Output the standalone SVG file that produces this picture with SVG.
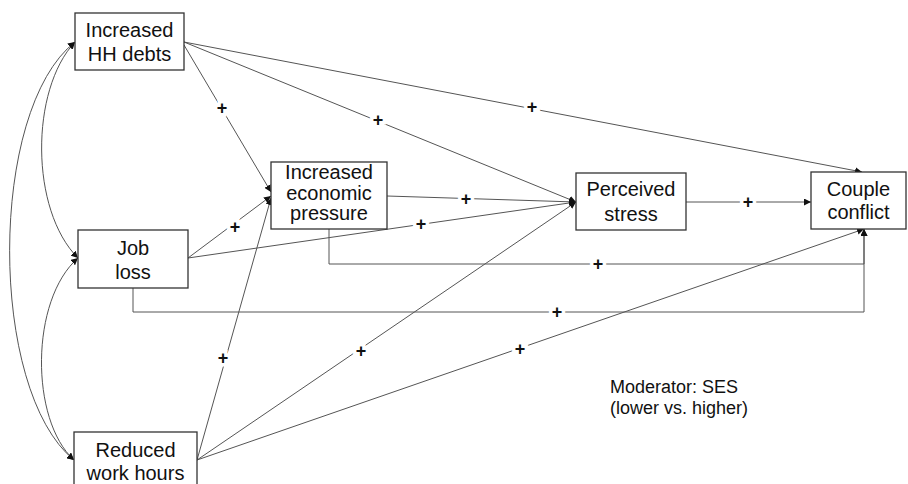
<svg xmlns="http://www.w3.org/2000/svg" width="908" height="484" viewBox="0 0 908 484">
<style>
.box{fill:#fff;stroke:#333;stroke-width:1.3}
.t{font-family:"Liberation Sans",Arial,sans-serif;font-size:20px;fill:#111;text-anchor:middle}
.c{fill:none;stroke:#555;stroke-width:1}
.p{font-family:"Liberation Sans",Arial,sans-serif;font-size:18px;font-weight:bold;fill:#111;text-anchor:middle;stroke:#fff;stroke-width:7;paint-order:stroke}
.m{font-family:"Liberation Sans",Arial,sans-serif;font-size:18px;fill:#111}
</style>
<defs>
<marker id="ah" viewBox="0 0 10 10" refX="10" refY="5" markerWidth="7" markerHeight="7" markerUnits="userSpaceOnUse" orient="auto-start-reverse">
<path d="M0,0 L10,5 L0,10 z" fill="#111"/>
</marker>
</defs>
<rect width="908" height="484" fill="#fff"/>
<g id="connectors">
<path class="c" d="M75,42 C30,90 30,210 78,258" marker-start="url(#ah)" marker-end="url(#ah)"/>
<path class="c" d="M75,42 C-12,110 -12,390 74,460" marker-start="url(#ah)" marker-end="url(#ah)"/>
<path class="c" d="M78,258 C30,300 30,420 74,460" marker-start="url(#ah)" marker-end="url(#ah)"/>
<path class="c" d="M184,42 L862,172" marker-end="url(#ah)"/>
<path class="c" d="M184,42 L576,202" marker-end="url(#ah)"/>
<path class="c" d="M184,45 L271,192" marker-end="url(#ah)"/>
<path class="c" d="M188,258 L271,196" marker-end="url(#ah)"/>
<path class="c" d="M197,460 L271,198" marker-end="url(#ah)"/>
<path class="c" d="M188,258 L576,202" marker-end="url(#ah)"/>
<path class="c" d="M387,196 L576,202" marker-end="url(#ah)"/>
<path class="c" d="M686,202 L811,202" marker-end="url(#ah)"/>
<path class="c" d="M329,229 L329,264 L864,264 L864,229" marker-end="url(#ah)"/>
<path class="c" d="M133,288 L133,312 L864,312 L864,229" marker-end="url(#ah)"/>
<path class="c" d="M197,460 L576,202" marker-end="url(#ah)"/>
<path class="c" d="M197,460 L864,229" marker-end="url(#ah)"/>
<text class="p" x="532" y="113">+</text>
<text class="p" x="378" y="126">+</text>
<text class="p" x="222" y="114">+</text>
<text class="p" x="235" y="233">+</text>
<text class="p" x="223" y="364">+</text>
<text class="p" x="421" y="230">+</text>
<text class="p" x="466" y="205">+</text>
<text class="p" x="748" y="208">+</text>
<text class="p" x="598" y="270">+</text>
<text class="p" x="557" y="318">+</text>
<text class="p" x="361" y="357">+</text>
<text class="p" x="520" y="355">+</text>
</g>
<g id="hh">
<rect class="box" x="75" y="13" width="109" height="57"/>
<text class="t" x="129.5" y="37">Increased</text>
<text class="t" x="129.5" y="61">HH debts</text>
</g>
<g id="job">
<rect class="box" x="78" y="230" width="110" height="58"/>
<text class="t" x="133" y="255">Job</text>
<text class="t" x="133" y="279">loss</text>
</g>
<g id="reduced">
<rect class="box" x="74" y="432" width="123" height="60"/>
<text class="t" x="135.5" y="457">Reduced</text>
<text class="t" x="135.5" y="480">work hours</text>
</g>
<g id="econ">
<rect class="box" x="271" y="162" width="116" height="67"/>
<text class="t" x="329" y="179">Increased</text>
<text class="t" x="329" y="200">economic</text>
<text class="t" x="329" y="220">pressure</text>
</g>
<g id="stress">
<rect class="box" x="576" y="173" width="110" height="57"/>
<text class="t" x="631" y="196">Perceived</text>
<text class="t" x="631" y="221">stress</text>
</g>
<g id="couple">
<rect class="box" x="811" y="172" width="95" height="57"/>
<text class="t" x="858.5" y="196">Couple</text>
<text class="t" x="858.5" y="219">conflict</text>
</g>
<g id="moderator">
<text class="m" x="610" y="393">Moderator: SES</text>
<text class="m" x="610" y="414">(lower vs. higher)</text>
</g>
</svg>
